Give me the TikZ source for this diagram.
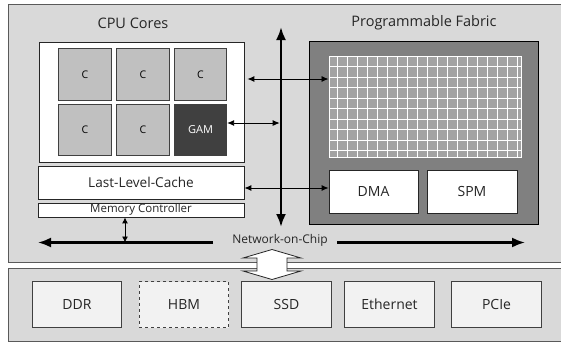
\documentclass[tikz,border=0pt]{standalone}
\usepackage{fontspec}
\setmainfont{Open Sans}
\usetikzlibrary{arrows.meta}
\definecolor{panelfill}{HTML}{D9D9D9}
\definecolor{panelline}{HTML}{5A5A5A}
\definecolor{corefill}{HTML}{C0C0C0}
\definecolor{gamfill}{HTML}{404040}
\definecolor{fabfill}{HTML}{808080}
\definecolor{gridfill}{HTML}{A3A3A3}
\definecolor{memfill}{HTML}{F2F2F2}
\tikzset{
  panel/.style={draw=panelline, fill=panelfill, line width=1pt, inner sep=0, anchor=north west},
  whitebox/.style={draw=black!85, fill=white, line width=0.8pt, inner sep=0},
  corebox/.style={draw=black!75, fill=corefill, line width=0.8pt, inner sep=0,
    minimum width=52.5pt, minimum height=51.5pt, font=\fontsize{10.5}{12}\selectfont},
  membox/.style={draw=black!75, fill=memfill, line width=0.8pt, inner sep=0,
    minimum width=89.5pt, minimum height=46pt, font=\fontsize{14}{16}\selectfont, text=black!85},
  title/.style={font=\fontsize{14.5}{17}\selectfont, text=black!85},
  thinarrow/.style={line width=0.9pt, {Latex[length=7pt,width=6pt]}-{Latex[length=7pt,width=6pt]}},
  thickarrow/.style={line width=2.4pt, -{Latex[length=13pt,width=10pt]}},
}
\begin{document}
\begin{tikzpicture}[x=1pt, y=-1pt]
\useasboundingbox (0,0) rectangle (561,346);
% panels
\node[panel, minimum width=565pt, minimum height=258pt] (toppanel) at (8,4) {};
\node[panel, minimum width=565pt, minimum height=73pt] (botpanel) at (8,268) {};
% titles
\node[title] (cputitle) at (133,23) {CPU Cores};
\node[title] (fabtitle) at (424,23) {Programmable Fabric};
% CPU block
\node[whitebox, minimum width=205pt, minimum height=120pt] (cpubox) at (141.5,102) {};
\node[corebox] (c1) at (85,74.5) {C};
\node[corebox] (c2) at (143,74.5) {C};
\node[corebox] (c3) at (200.5,74.5) {C};
\node[corebox] (c4) at (85,130) {C};
\node[corebox] (c5) at (143,130) {C};
\node[corebox, fill=gamfill, text=white, font=\fontsize{11}{13}\selectfont] (gam) at (200.5,130) {GAM};
\node[whitebox, minimum width=206pt, minimum height=33pt, font=\fontsize{13.6}{16}\selectfont, text=black!85] (llc) at (141,182.5) {Last-Level-Cache};
\node[whitebox, minimum width=206pt, minimum height=14pt, font=\fontsize{11.5}{12}\selectfont, text=black!85] (mc) at (141,210) {Memory Controller};
% Fabric
\node[draw=black, fill=fabfill, line width=0.8pt, inner sep=0, minimum width=229pt, minimum height=183pt] (fabric) at (423.5,132.5) {};
\node[fill=gridfill, draw=white, line width=1pt, inner sep=0, minimum width=192pt, minimum height=101pt] (grid) at (425,106.5) {};
\foreach \i in {0,...,18} {
  \draw[white, line width=1pt] (337+10*\i,56) -- (337+10*\i,157);
}
\foreach \j in {0,...,8} {
  \draw[white, line width=1pt] (329,66.5+10.5*\j) -- (521,66.5+10.5*\j);
}
\node[whitebox, minimum width=89pt, minimum height=43pt, font=\fontsize{14}{16}\selectfont, text=black!85] (dma) at (373.5,191.5) {DMA};
\node[whitebox, minimum width=90pt, minimum height=43pt, font=\fontsize{14}{16}\selectfont, text=black!85] (spm) at (472,191.5) {SPM};
% memory / IO
\node[membox] (ddr) at (77,304.5) {DDR};
\node[membox, dashed] (hbm) at (184,304.5) {HBM};
\node[membox] (ssd) at (286.5,304.5) {SSD};
\node[membox] (eth) at (389.5,304.5) {Ethernet};
\node[membox] (pcie) at (496.5,304.5) {PCIe};
% vertical interconnect
\coordinate (vtop) at (281,27);
\coordinate (vbot) at (281,227);
\draw[line width=2.4pt, {Latex[length=13pt,width=10pt]}-{Latex[length=13pt,width=10pt]}] (vtop) -- (vbot);
% thin arrows
\coordinate (r1) at (0,79);
\coordinate (r2) at (0,123);
\coordinate (r3) at (0,188);
\draw[thinarrow, shorten <=3pt] (cpubox.east |- r1) -- (grid.west |- r1);
\draw[thinarrow, shorten >=1.3pt] (gam.east |- r2) -- (vtop |- r2);
\draw[thinarrow] (llc.east |- r3) -- (dma.west |- r3);
% network on chip
\node[font=\fontsize{12}{13}\selectfont, text=black!85] (noc) at (280,240) {Network-on-Chip};
\coordinate (nocL) at (38,242.5);
\coordinate (nocR) at (525,242.5);
\coordinate (mcnoc) at (125,242.5);
\draw[thickarrow, line width=2.2pt] (213,242.5) -- (nocL);
\draw[thickarrow, line width=2.2pt] (337,242.5) -- (nocR);
\draw[line width=0.9pt, {Latex[length=6pt,width=6pt]}-{Latex[length=6pt,width=6pt]}] (mc.south -| mcnoc) -- (mcnoc);
% hollow double arrow between panels
\draw[fill=white, line width=0.8pt, draw=black!85]
  (272,249.5) -- (301,258) -- (287,258) -- (287,271) -- (301,271) -- (272,279.5)
  -- (243,271) -- (257,271) -- (257,258) -- (243,258) -- cycle;
\end{tikzpicture}
\end{document}
